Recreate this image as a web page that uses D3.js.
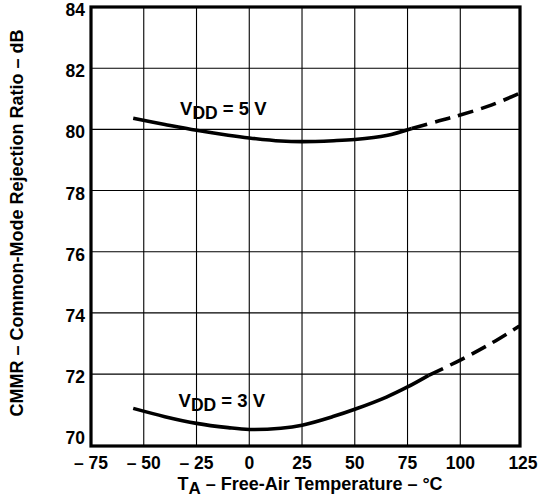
<!DOCTYPE html>
<html>
<head>
<meta charset="utf-8">
<script src="https://cdn.jsdelivr.net/npm/d3@7"></script>
<style>
  body { margin: 0; background: #fff; }
  text { font-family: "Liberation Sans", Arial, sans-serif; font-weight: bold; fill: #000; }
</style>
</head>
<body>
<div id="chart"></div>
<script>
// temperatures (°C) and CMMR (dB)
var temps5Solid = [-55, -40, -25, -10, 0, 15, 25, 40, 50, 65, 77];
var cmmr5Solid  = [80.36, 80.16, 79.97, 79.81, 79.72, 79.62, 79.60, 79.63, 79.67, 79.80, 80.03];
var temps5Dash  = [77, 90, 100, 115, 128];
var cmmr5Dash   = [80.03, 80.28, 80.47, 80.80, 81.18];

var temps3Solid = [-55, -40, -25, -10, 0, 15, 25, 40, 50, 65, 75, 85];
var cmmr3Solid  = [70.88, 70.61, 70.39, 70.25, 70.19, 70.23, 70.33, 70.62, 70.85, 71.25, 71.58, 71.96];
var temps3Dash  = [85, 100, 115, 128];
var cmmr3Dash   = [71.96, 72.46, 73.02, 73.57];

var xTicks = [-75, -50, -25, 0, 25, 50, 75, 100, 125];
var yTicks = [70, 72, 74, 76, 78, 80, 82, 84];

var W = 548, H = 503;
var margin = {top: 7, right: 28, bottom: 57, left: 91};
var width = W - margin.left - margin.right;
var height = H - margin.top - margin.bottom;

var svg = d3.select("#chart").append("svg")
  .attr("width", W)
  .attr("height", H);

var g = svg.append("g")
  .attr("transform", "translate(" + margin.left + "," + margin.top + ")");

// the frame on the original runs a little past 125 °C and below 70 dB
var x = d3.scaleLinear().domain([-75, 128.3]).range([0, width]);
var y = d3.scaleLinear().domain([69.65, 84]).range([height, 0]);

// grid
g.selectAll(".vgrid")
  .data(xTicks.slice(1, -1))
  .enter()
  .append("line")
    .attr("x1", d => x(d)).attr("x2", d => x(d))
    .attr("y1", 0).attr("y2", height)
    .attr("stroke", "#000").attr("stroke-width", 1.1);

g.selectAll(".hgrid")
  .data(yTicks.slice(1, -1))
  .enter()
  .append("line")
    .attr("x1", 0).attr("x2", width)
    .attr("y1", d => y(d)).attr("y2", d => y(d))
    .attr("stroke", "#000").attr("stroke-width", 1.1);

// curves
var line = d3.line()
  .x(d => x(d[0]))
  .y(d => y(d[1]))
  .curve(d3.curveCatmullRom.alpha(0.5));

function pairs(t, v){
  return t.map((d, i) => [d, v[i]]);
}

var curves = [
  {pts: pairs(temps5Solid, cmmr5Solid), dash: null},
  {pts: pairs(temps5Dash, cmmr5Dash), dash: "16,8"},
  {pts: pairs(temps3Solid, cmmr3Solid), dash: null},
  {pts: pairs(temps3Dash, cmmr3Dash), dash: "16,8"}
];

g.append("clipPath").attr("id", "clip")
  .append("rect").attr("width", width).attr("height", height);

g.selectAll(".curve")
  .data(curves)
  .enter()
  .append("path")
    .attr("d", d => line(d.pts))
    .attr("fill", "none")
    .attr("stroke", "#000")
    .attr("stroke-width", 3.6)
    .attr("stroke-dasharray", d => d.dash)
    .attr("clip-path", "url(#clip)");

// frame
g.append("rect")
  .attr("width", width)
  .attr("height", height)
  .attr("fill", "none")
  .attr("stroke", "#000")
  .attr("stroke-width", 3.2);

// tick labels
function fmt(d){
  return d < 0 ? "\u2013 " + Math.abs(d) : String(d);
}

g.selectAll(".xlab")
  .data(xTicks)
  .enter()
  .append("text")
    .attr("x", d => d === 125 ? width + 3 : x(d))
    .attr("y", height + 23)
    .attr("text-anchor", "middle")
    .style("font-size", "17.5px")
    .text(fmt);

g.selectAll(".ylab")
  .data(yTicks)
  .enter()
  .append("text")
    .attr("x", -6)
    .attr("y", d => y(d) + 9)
    .attr("text-anchor", "end")
    .style("font-size", "17.5px")
    .text(d => d);

// series labels
var labels = [
  {t: -32.8, v: 80.47, txt: "5 V"},
  {t: -33.5, v: 70.92, txt: "3 V"}
];

labels.forEach(function(l){
  var tx = g.append("text")
    .attr("x", x(l.t))
    .attr("y", y(l.v))
    .style("font-size", "18.5px");
  tx.append("tspan").text("V");
  tx.append("tspan").attr("dy", 4).style("font-size", "17.5px").text("DD");
  tx.append("tspan").attr("dy", -4).text(" = " + l.txt);
});

// axis titles
var xt = svg.append("text")
  .attr("x", 310)
  .attr("y", 490)
  .attr("text-anchor", "middle")
  .style("font-size", "18px");
xt.append("tspan").text("T");
xt.append("tspan").attr("dy", 4).style("font-size", "17px").text("A");
xt.append("tspan").attr("dy", -4).text(" \u2013 Free-Air Temperature \u2013 \u00B0C");

svg.append("text")
  .attr("transform", "translate(23,223) rotate(-90)")
  .attr("text-anchor", "middle")
  .style("font-size", "18px")
  .text("CMMR \u2013 Common-Mode Rejection Ratio \u2013 dB");
</script>
</body>
</html>
